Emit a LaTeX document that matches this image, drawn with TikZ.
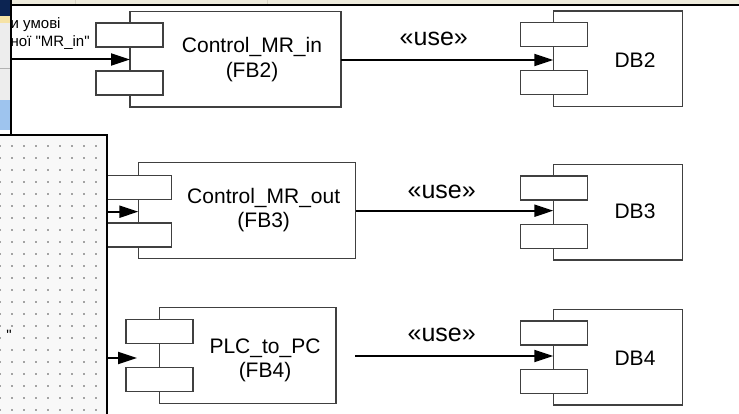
\documentclass[tikz,border=0pt]{standalone}
\usepackage{fontspec}
\setmainfont{Liberation Sans}
\usetikzlibrary{arrows.meta}
\definecolor{boxgray}{HTML}{404040}
\definecolor{xpbeige}{HTML}{EEEBDC}
\definecolor{xpsep}{HTML}{D8D4C4}
\definecolor{xpnavy}{HTML}{0C2452}
\definecolor{paleyellow}{HTML}{F6E3A6}
\definecolor{stripgray}{HTML}{EDEDED}
\definecolor{xpblue}{HTML}{9EC4EE}
\definecolor{panelbg}{HTML}{F8F8F8}
\definecolor{dotgray}{HTML}{505050}
\tikzset{
  box/.style={draw=boxgray, line width=1.1pt, fill=white, inner sep=0pt, outer sep=0pt},
  port/.style={box, minimum width=67pt, minimum height=24pt},
  lbl/.style={font=\fontsize{21}{24.5}\selectfont, align=center, inner sep=0pt},
  uselbl/.style={font=\fontsize{25}{28}\selectfont, inner sep=0pt},
  smalltxt/.style={font=\fontsize{15}{18}\selectfont, inner sep=0pt, anchor=west},
  usearrow/.style={draw=black, line width=2pt, -{Triangle[length=19pt,width=12pt]}}
}
\begin{document}
\begin{tikzpicture}[x=1pt,y=-1pt]
\useasboundingbox (0,0) rectangle (739,414);
\fill[white] (0,0) rectangle (739,414);
% top window strip
\fill[xpbeige] (0,0) rectangle (739,5);
\draw[xpsep, line width=0.8pt] (75,0) -- (75,4) (267,0) -- (267,4);
\draw[line width=2pt] (10,5.5) -- (739,5.5);

% component boxes
\node[box, minimum width=211pt, minimum height=95.3pt] (c1) at (235.5,59.35) {};
\node[port] (c1p1) at (129.5,35) {};
\node[port] (c1p2) at (129.5,83) {};
\node[lbl] (t1) at (252,59.5) {Control\_MR\_in\\(FB2)};

\node[box, minimum width=217.4pt, minimum height=95.6pt] (c2) at (247,210.5) {};
\node[port] (c2p1) at (138.2,187.2) {};
\node[port] (c2p2) at (138.2,235) {};
\node[lbl] (t2) at (263.7,210) {Control\_MR\_out\\(FB3)};

\node[box, minimum width=176.7pt, minimum height=95.6pt] (c3) at (247.65,355.5) {};
\node[port] (c3p1) at (159.5,331.3) {};
\node[port] (c3p2) at (159.5,379.5) {};
\node[lbl] (t3) at (265,360.5) {PLC\_to\_PC\\(FB4)};

% DB boxes
\node[box, minimum width=129.4pt, minimum height=95.7pt] (db2) at (618,58.85) {};
\node[port] (db2p1) at (553.7,34.7) {};
\node[port] (db2p2) at (553.7,82.8) {};
\node[lbl] (d2) at (635,60) {DB2};

\node[box, minimum width=129.4pt, minimum height=95.7pt] (db3) at (618,212.15) {};
\node[port] (db3p1) at (553.7,188) {};
\node[port] (db3p2) at (553.7,236.3) {};
\node[lbl] (d3) at (635,211.7) {DB3};

\node[box, minimum width=129.4pt, minimum height=95.7pt] (db4) at (618,357.15) {};
\node[port] (db4p1) at (553.7,333) {};
\node[port] (db4p2) at (553.7,381.3) {};
\node[lbl] (d4) at (635,358.3) {DB4};

% use arrows
\draw[usearrow] (c1.east |- 0,60) -- (db2.west |- 0,60);
\node[uselbl] (u1) at (433.8,39) {«use»};
\draw[usearrow] (c2.east |- 0,210.7) -- (db3.west |- 0,210.7);
\node[uselbl] (u2) at (441.7,191.7) {«use»};
\coordinate (s3) at (355,356);
\draw[usearrow] (s3) -- (s3 -| db4.west);
\node[uselbl] (u3) at (441.7,335) {«use»};

% incoming arrows from the left
\coordinate (la1) at (10,59.5);
\draw[usearrow] (la1) -- (la1 -| c1.west);
\coordinate (la2) at (107,211.7);
\draw[usearrow] (la2) -- (la2 -| c2.west);
\coordinate (la3) at (107,358);
\coordinate (le3) at (137,358);
\draw[usearrow] (la3) -- (le3);

% top-left text fragments
\node[smalltxt] (tx1) at (10.5,25) {и умові};
\node[smalltxt] (tx2) at (10.5,43) {ної \textquotedbl MR\_in\textquotedbl};

% dotted panel
\fill[panelbg] (-2,135) rectangle (107,416);
\foreach \i in {0,...,8} {
  \foreach \j in {0,...,22} {
    \fill[dotgray] (\i*12,146+\j*12) circle (0.85pt);
  }
}
\node[smalltxt, fill=panelbg, anchor=east, inner sep=1pt] (q1) at (13,335) {\textquotedbl};
\draw[line width=2.2pt] (-2,135) -- (107,135) -- (107,416);

% left window strip
\fill[xpnavy] (0,0) rectangle (10,16);
\fill[paleyellow] (0,16) rectangle (10,23);
\fill[stripgray] (0,23) rectangle (10,100);
\draw[gray!60, line width=0.8pt] (0,68) -- (10,68);
\fill[xpblue] (0,100) rectangle (10,130);
\draw[line width=2pt] (10.7,0) -- (10.7,135);
\end{tikzpicture}
\end{document}
